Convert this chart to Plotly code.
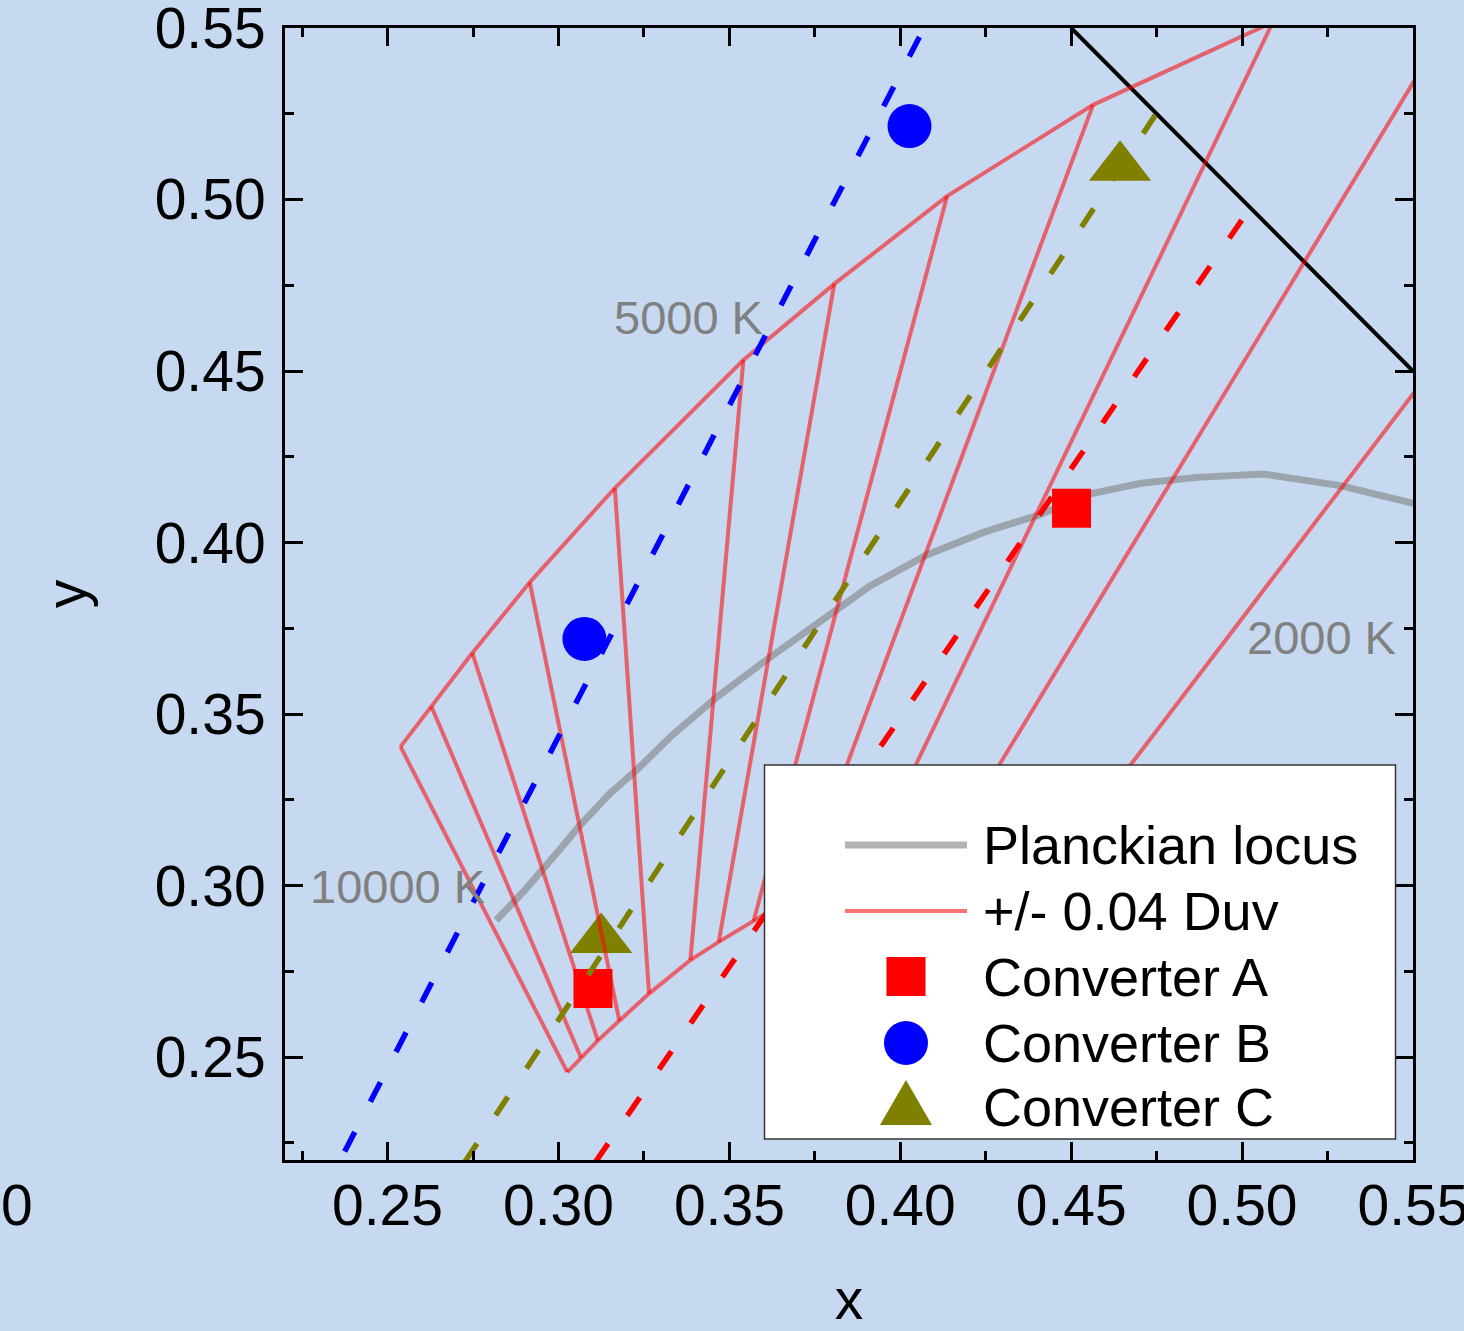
import plotly.graph_objects as go

# ---------------- data ----------------
# Planckian locus
locus_x = [0.2818, 0.2902, 0.3007, 0.3059, 0.3151, 0.3229, 0.3333, 0.3464, 0.3607, 0.3751,
           0.3908, 0.4077, 0.4247, 0.4404, 0.4560, 0.4704, 0.4868, 0.5062, 0.5287, 0.5501]
locus_y = [0.2899, 0.2987, 0.3109, 0.3171, 0.3269, 0.3337, 0.3439, 0.3550, 0.3657, 0.3759,
           0.3871, 0.3964, 0.4031, 0.4080, 0.4143, 0.4173, 0.4190, 0.4200, 0.4166, 0.4114]

# +/- 0.04 Duv grid: isotherm end points (10000, 9000, 8000, 7000, 6000, 5000, 4500, 4000, 3500, 3000, 2500, 2000 K)
iso_cct = [10000, 9000, 8000, 7000, 6000, 5000, 4500, 4000, 3500, 3000, 2500, 2000]
duv_upper_x = [0.2538, 0.2628, 0.2748, 0.2916, 0.3165, 0.3541, 0.3807, 0.4137, 0.4564, 0.5090, 0.5719, 0.6468]
duv_upper_y = [0.3405, 0.3523, 0.3678, 0.3884, 0.4159, 0.4532, 0.4754, 0.5010, 0.5276, 0.5517, 0.5700, 0.5700]
duv_lower_x = [0.3026, 0.3066, 0.3115, 0.3178, 0.3265, 0.3386, 0.3469, 0.3571, 0.3704, 0.3909, 0.4185, 0.4596]
duv_lower_y = [0.2456, 0.2498, 0.2548, 0.2606, 0.2685, 0.2783, 0.2836, 0.2897, 0.2978, 0.3069, 0.3180, 0.3250]

# Converters
conv_a_x = [0.3101, 0.4501]
conv_a_y = [0.2700, 0.4100]
conv_b_x = [0.3076, 0.4027]
conv_b_y = [0.3719, 0.5214]
conv_c_x = [0.3125, 0.4643]
conv_c_y = [0.2843, 0.5094]

# Dashed guide lines (top end first)
blue_line_x = [0.4056, 0.2354]
blue_line_y = [0.5474, 0.2185]
olive_line_x = [0.4746, 0.2720]
olive_line_y = [0.5246, 0.2185]
red_line_x = [0.4999, 0.3102]
red_line_y = [0.4940, 0.2185]

# x + y = 1 boundary
diag_x = [0.45, 0.55]
diag_y = [0.55, 0.45]

# CCT labels
cct_label_text = ["10000 K", "5000 K", "2000 K"]
cct_label_x = [0.2528, 0.3379, 0.5231]
cct_label_y = [0.2996, 0.4655, 0.3724]

legend_labels = ["Planckian locus", "+/- 0.04 Duv", "Converter A", "Converter B", "Converter C"]

# ---------------- styling ----------------
FONT = "Liberation Sans, Arial, sans-serif"
BG = "#C6D9F0"
GRAY_LINE = "rgba(128,128,128,0.6)"
RED_LINE = "rgba(255,0,0,0.55)"
OLIVE = "#808000"
DASH = "22px,34px"

L, R, T, B = 285, 51, 28, 171
W, H = 1464, 1331
PW, PH = W - L - R, H - T - B


def pxx(px):
    return (px - L) / PW


def pxy(py):
    return (H - B - py) / PH


# ---------------- build grid trace ----------------
gx, gy = [], []
gx += duv_upper_x + [None]
gy += duv_upper_y + [None]
gx += duv_lower_x + [None]
gy += duv_lower_y + [None]
for ux, uy, lx, ly in zip(duv_upper_x, duv_upper_y, duv_lower_x, duv_lower_y):
    gx += [ux, lx, None]
    gy += [uy, ly, None]

fig = go.Figure()
fig.add_trace(go.Scatter(x=diag_x, y=diag_y, mode="lines",
                         line=dict(color="black", width=4), showlegend=False, hoverinfo="skip"))
fig.add_trace(go.Scatter(x=locus_x, y=locus_y, mode="lines", name=legend_labels[0],
                         line=dict(color=GRAY_LINE, width=7)))
fig.add_trace(go.Scatter(x=conv_a_x, y=conv_a_y, mode="markers", name=legend_labels[2],
                         marker=dict(symbol="square", size=39, color="#FF0000", line=dict(width=0))))
fig.add_trace(go.Scatter(x=conv_b_x, y=conv_b_y, mode="markers", name=legend_labels[3],
                         marker=dict(symbol="circle", size=44, color="#0000FF", line=dict(width=0))))
fig.add_trace(go.Scatter(x=conv_c_x, y=conv_c_y, mode="markers", name=legend_labels[4],
                         marker=dict(symbol="triangle-up", size=54, color=OLIVE, line=dict(width=0))))
fig.add_trace(go.Scatter(x=gx, y=gy, mode="lines", name=legend_labels[1],
                         line=dict(color=RED_LINE, width=4), connectgaps=False))
for xs, ys, col in [(blue_line_x, blue_line_y, "#0000FF"),
                    (olive_line_x, olive_line_y, OLIVE),
                    (red_line_x, red_line_y, "#FF0000")]:
    fig.add_trace(go.Scatter(x=xs, y=ys, mode="lines", showlegend=False,
                             line=dict(color=col, width=5.5, dash=DASH)))

# CCT labels
for t, x, y in zip(cct_label_text, cct_label_x, cct_label_y):
    fig.add_annotation(x=x, y=y, xref="x", yref="y", text=t, showarrow=False,
                       font=dict(family=FONT, size=47, color="#808080"),
                       xanchor="center", yanchor="middle")

# stray "0" label at lower left
fig.add_annotation(x=pxx(0), y=pxy(1205), xref="paper", yref="paper", text="0", showarrow=False,
                   font=dict(family=FONT, size=57, color="black"), xanchor="left", yanchor="middle",
                   borderpad=0)

# ---------------- manual legend ----------------
shapes = []
shapes.append(dict(type="rect", xref="paper", yref="paper", x0=pxx(764.5), x1=pxx(1395.5),
                   y0=pxy(1139), y1=pxy(765), fillcolor="white",
                   line=dict(color="#333333", width=1.5), layer="above"))
row_y = [845, 911, 976.5, 1043, 1107]
shapes.append(dict(type="line", xref="paper", yref="paper", x0=pxx(845), x1=pxx(967),
                   y0=pxy(row_y[0]), y1=pxy(row_y[0]), line=dict(color=GRAY_LINE, width=7), layer="above"))
shapes.append(dict(type="line", xref="paper", yref="paper", x0=pxx(845), x1=pxx(967),
                   y0=pxy(row_y[1]), y1=pxy(row_y[1]), line=dict(color=RED_LINE, width=4), layer="above"))
sym_cx = 906
shapes.append(dict(type="rect", xref="paper", yref="paper", x0=pxx(sym_cx - 19.5), x1=pxx(sym_cx + 19.5),
                   y0=pxy(row_y[2] + 19.5), y1=pxy(row_y[2] - 19.5), fillcolor="#FF0000",
                   line=dict(width=0), layer="above"))
shapes.append(dict(type="circle", xref="paper", yref="paper", x0=pxx(sym_cx - 22), x1=pxx(sym_cx + 22),
                   y0=pxy(row_y[3] + 22), y1=pxy(row_y[3] - 22), fillcolor="#0000FF",
                   line=dict(width=0), layer="above"))
tri = "M {:.5f} {:.5f} L {:.5f} {:.5f} L {:.5f} {:.5f} Z".format(
    pxx(sym_cx), pxy(1080), pxx(sym_cx - 26), pxy(1125), pxx(sym_cx + 26), pxy(1125))
shapes.append(dict(type="path", xref="paper", yref="paper", path=tri, fillcolor=OLIVE,
                   line=dict(width=0), layer="above"))
for lbl, ry in zip(legend_labels, row_y):
    fig.add_annotation(x=pxx(981), y=pxy(ry), xref="paper", yref="paper", text=lbl, showarrow=False,
                       font=dict(family=FONT, size=54, color="black"), xanchor="left", yanchor="middle")

axis_common = dict(
    range=[0.22, 0.550001], tick0=0, dtick=0.05, tickformat=".2f",
    showgrid=False, zeroline=False, automargin=False,
    showline=True, linecolor="black", linewidth=3, mirror="allticks",
    ticks="inside", ticklen=18, tickwidth=3, tickcolor="black",
    tickfont=dict(family=FONT, size=57, color="black"),
    ticklabeloverflow="allow",
    minor=dict(dtick=0.025, ticks="inside", ticklen=9, tickwidth=3, tickcolor="black", showgrid=False),
)

fig.update_layout(
    width=W, height=H,
    margin=dict(l=L, r=R, t=T, b=B, pad=0, autoexpand=False),
    paper_bgcolor=BG, plot_bgcolor=BG,
    showlegend=False,
    font=dict(family=FONT, size=56, color="black"),
    shapes=shapes,
    xaxis=dict(axis_common, title=dict(text="x", font=dict(family=FONT, size=57), standoff=43),
               ticklabelstandoff=-6),
    yaxis=dict(axis_common, title=dict(text="y", font=dict(family=FONT, size=57), standoff=50),
               ticklabelstandoff=5),
)

fig.write_html("out.html", config={"displayModeBar": False},
               post_script="document.body.style.margin='0';")
